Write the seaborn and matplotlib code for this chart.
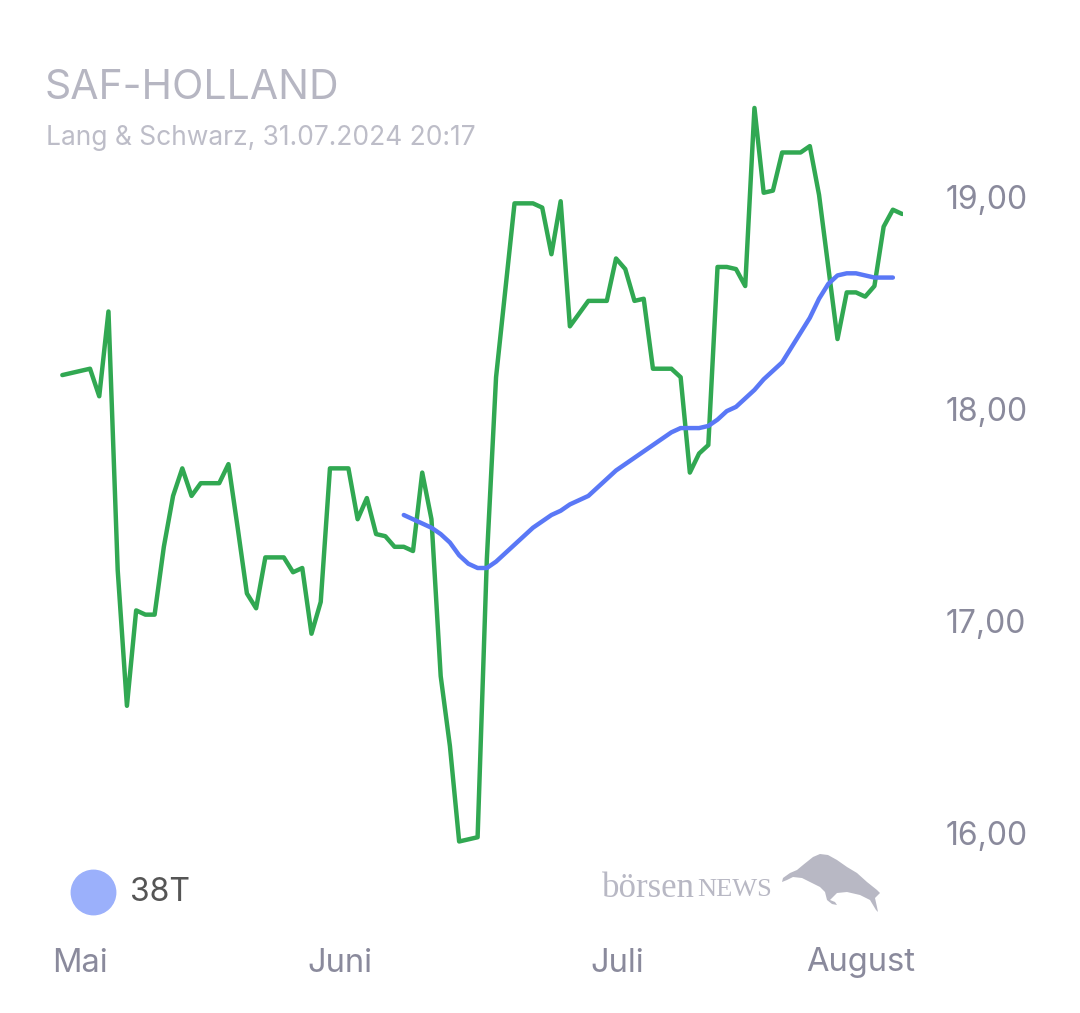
import pandas as pd
import numpy as np
import matplotlib
matplotlib.use("Agg")
import matplotlib.pyplot as plt
import matplotlib.ticker as mticker
from matplotlib.patches import Polygon
from matplotlib.transforms import ScaledTranslation
import seaborn as sns

# daily L&S closing prices, 01.05.2024 - 31.07.2024
price = [18.16, 18.17, 18.18, 18.19, 18.06, 18.46, 17.24, 16.60, 17.05, 17.03,
         17.03, 17.35, 17.59, 17.72, 17.59, 17.65, 17.65, 17.65, 17.74, 17.44,
         17.13, 17.06, 17.30, 17.30, 17.30, 17.23, 17.25, 16.94, 17.09, 17.72,
         17.72, 17.72, 17.48, 17.58, 17.41, 17.40, 17.35, 17.35, 17.33, 17.70,
         17.48, 16.74, 16.41, 15.96, 15.97, 15.98, 17.29, 18.15, 18.56, 18.97,
         18.97, 18.97, 18.95, 18.73, 18.98, 18.39, 18.45, 18.51, 18.51, 18.51,
         18.71, 18.66, 18.51, 18.52, 18.19, 18.19, 18.19, 18.15, 17.70, 17.79,
         17.83, 18.67, 18.67, 18.66, 18.58, 19.42, 19.02, 19.03, 19.21, 19.21,
         19.21, 19.24, 19.01, 18.67, 18.33, 18.55, 18.55, 18.53, 18.58, 18.86,
         18.94, 18.92]

# 38-day moving average (starts at day 38, ends one day before last price)
ma38 = [17.50, 17.48, 17.46, 17.44, 17.41, 17.37, 17.31, 17.27, 17.25, 17.25,
        17.28, 17.32, 17.36, 17.40, 17.44, 17.47, 17.50, 17.52, 17.55, 17.57,
        17.59, 17.63, 17.67, 17.71, 17.74, 17.77, 17.80, 17.83, 17.86, 17.89,
        17.91, 17.91, 17.91, 17.92, 17.95, 17.99, 18.01, 18.05, 18.09, 18.14,
        18.18, 18.22, 18.29, 18.36, 18.43, 18.52, 18.59, 18.63, 18.64, 18.64,
        18.63, 18.62, 18.62, 18.62]
ma_start = 37

month_ticks = ["2024-05-01", "2024-06-01", "2024-07-01", "2024-08-01"]
month_labels = ["Mai", "Juni", "Juli", "August"]
y_ticks = [16, 17, 18, 19]

dates = pd.date_range("2024-05-01 21:40", periods=len(price), freq="D")
df = pd.DataFrame({"date": dates, "price": price})
df_ma = pd.DataFrame({"date": dates[ma_start:ma_start + len(ma38)], "ma": ma38})

sns.set_style("white")
plt.rcParams["font.family"] = ["Inter", "DejaVu Sans"]

W, H = 1080, 1013
fig = plt.figure(figsize=(W / 100, H / 100), dpi=100)
ax = fig.add_axes([54 / W, 1 - 860 / H, (903 - 54) / W, (860 - 90) / H])

sns.lineplot(data=df, x="date", y="price", ax=ax, color="#31a852", lw=3.2)
sns.lineplot(data=df_ma, x="date", y="ma", ax=ax, color="#5a78f6", lw=3.2)

ax.set_xlim(pd.Timestamp("2024-05-01"), pd.Timestamp("2024-08-01"))
ax.set_ylim(16 - 27 / 212, 19 + 107 / 212)
for s in ax.spines.values():
    s.set_visible(False)

grey = "#8a8a9c"
ax.yaxis.tick_right()
ax.set_yticks(y_ticks)
ax.yaxis.set_major_formatter(mticker.FuncFormatter(lambda v, p: f"{v:.2f}".replace(".", ",")))
ax.tick_params(axis="y", length=0, pad=31, labelsize=23, labelcolor=grey)

ax.set_xticks(pd.to_datetime(month_ticks))
ax.set_xticklabels(month_labels)
ax.tick_params(axis="x", length=0, pad=63, labelsize=23.5, labelcolor=grey)
xl = ax.get_xticklabels()
xl[0].set_ha("left")
xl[-1].set_ha("right")
xl[0].set_transform(xl[0].get_transform() + ScaledTranslation(-2 / 100, 0, fig.dpi_scale_trans))
xl[-1].set_transform(xl[-1].get_transform() + ScaledTranslation(12 / 100, 0, fig.dpi_scale_trans))
ax.set_xlabel("")
ax.set_ylabel("")

# title block
fig.text(45 / W, 1 - 88 / H, "SAF-HOLLAND", fontsize=29.5, color="#b6b6c2", va="center", ha="left")
fig.text(46 / W, 1 - 138 / H, "Lang & Schwarz, 31.07.2024 20:17", fontsize=19, color="#bdbdc8",
         va="center", ha="left")

# legend
fig.add_artist(plt.Line2D([93 / W], [1 - 892 / H], marker="o", markersize=32, color="#9bb0fb",
                          transform=fig.transFigure, lw=0))
fig.text(130 / W, 1 - 892 / H, "38T", fontsize=23, color="#555555", va="center", ha="left")

# watermark
fig.text(602 / W, 1 - 888 / H, "börsen", fontsize=25, color="#b8b8c4", va="center", ha="left",
         family=["Liberation Serif", "DejaVu Serif"])
fig.text(697 / W, 1 - 890 / H, "NEWS", fontsize=19, color="#b8b8c4", va="center", ha="left",
         family=["Liberation Serif", "DejaVu Serif"])
bull = [(783, 878), (790, 873), (797, 870), (803, 865), (813, 857), (820, 854), (828, 855),
        (837, 860), (847, 867), (857, 873), (867, 882), (877, 890), (880, 893), (875, 898),
        (877, 907), (878, 912), (876, 910), (870, 900), (860, 895), (847, 892), (837, 893),
        (830, 900), (835, 902), (837, 905), (832, 904), (827, 900), (825, 892), (820, 887),
        (810, 882), (802, 878), (793, 877), (787, 880), (782, 882)]
fig.patches.append(Polygon([(x / W, 1 - y / H) for x, y in bull], closed=True,
                           facecolor="#b8b8c4", edgecolor="none", transform=fig.transFigure))

fig.savefig("out.png", dpi=100, facecolor="white")
